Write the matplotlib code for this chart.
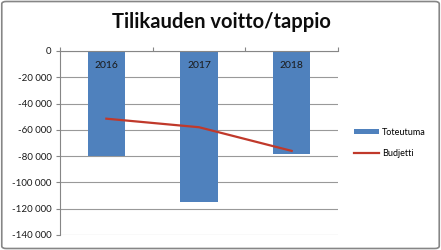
import matplotlib
matplotlib.use('Agg')
import matplotlib.pyplot as plt
from matplotlib.patches import FancyBboxPatch
from matplotlib.ticker import FuncFormatter, FixedLocator

# Chart data
years = ['2016', '2017', '2018']
toteutuma = [-79700, -115000, -78500]
budjetti = [-51500, -58000, -76000]
y_ticks = list(range(0, -140001, -20000))

plt.rcParams['font.family'] = ['Lato', 'DejaVu Sans']

fig = plt.figure(figsize=(4.41, 2.5), dpi=100)
fig.patch.set_facecolor('white')

# outer border of the chart area
border = FancyBboxPatch((0.004, 0.006), 0.992, 0.988,
                        boxstyle='round,pad=0,rounding_size=0.01',
                        transform=fig.transFigure, fill=False,
                        edgecolor='#868686', linewidth=1.2)
fig.patches.append(border)

ax = fig.add_axes([60 / 441, 1 - 235 / 250, 278 / 441, 184 / 250])

x = list(range(len(years)))
bars = ax.bar(x, toteutuma, width=0.4, color='#4f81bd', zorder=2,
              label='Toteutuma')
line, = ax.plot(x, budjetti, color='#c0392b', linewidth=1.6, zorder=3,
                label='Budjetti')

for xi, yr in zip(x, years):
    ax.text(xi, -11000, yr, ha='center', va='center', fontsize=7.5,
            color='#1a1a1a', zorder=4)

ax.set_xlim(-0.5, 2.5)
ax.set_ylim(-140000, 0)
ax.yaxis.set_major_locator(FixedLocator(y_ticks))
ax.yaxis.set_major_formatter(FuncFormatter(
    lambda v, p: '0' if v == 0 else '{:,.0f}'.format(v).replace(',', ' ')))
ax.tick_params(axis='y', labelsize=7, length=3, color='#868686', pad=3,
               labelcolor='#1a1a1a')

ax.xaxis.tick_top()
ax.xaxis.set_major_locator(FixedLocator([-0.5, 0.5, 1.5, 2.5]))
ax.set_xticklabels([])
ax.tick_params(axis='x', length=3, color='#868686', direction='out')

ax.grid(axis='y', color='#999999', linewidth=0.8, zorder=0)
for side in ['right', 'bottom']:
    ax.spines[side].set_visible(False)
ax.spines['left'].set_color('#868686')
ax.spines['top'].set_color('#868686')
ax.spines['left'].set_linewidth(0.8)
ax.spines['top'].set_linewidth(0.8)

fig.text(221 / 441, 1 - 22 / 250, 'Tilikauden voitto/tappio', ha='center',
         va='center', fontsize=14.5, fontweight='bold', color='#0d0d0d')

fig.legend([bars, line], ['Toteutuma', 'Budjetti'],
           loc='center left', bbox_to_anchor=(346 / 441, 1 - 143 / 250),
           frameon=False, fontsize=6.5, handlelength=2.8, handleheight=0.45,
           labelspacing=1.4, handletextpad=0.3)

fig.savefig('out.png', dpi=100)
